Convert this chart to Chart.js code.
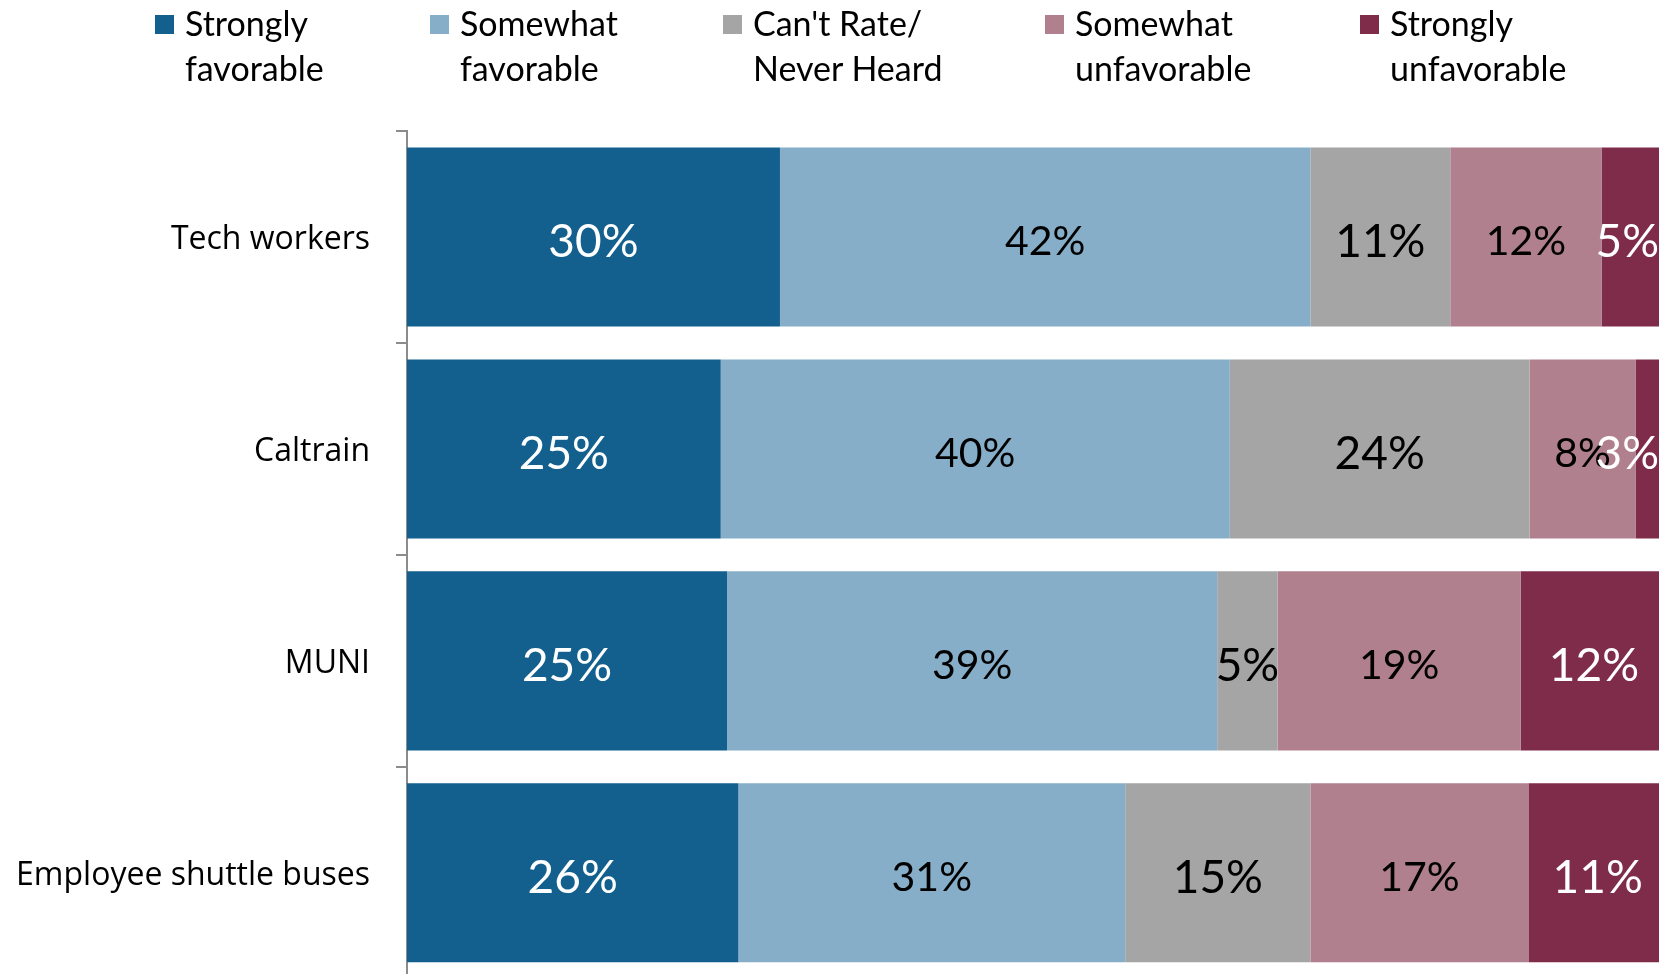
<!DOCTYPE html>
<html>
<head>
<meta charset="utf-8">
<script src="https://cdn.jsdelivr.net/npm/chart.js@4.4.1/dist/chart.umd.min.js"></script>
<style>
  html, body { margin: 0; padding: 0; background: #fff; overflow: hidden; }
  #wrap { position: relative; width: 1659px; height: 974px; overflow: hidden; }
  #myChart { position: absolute; left: 0; top: 0; }
  .leg { position: absolute; top: 0; font-family: Lato, sans-serif; font-size: 34px; line-height: 45px; color: #000; }
  .leg .box { position: absolute; top: 15px; left: 0; width: 19px; height: 19px; }
  .leg .txt { position: absolute; top: 0; left: 30px; white-space: nowrap; }
</style>
</head>
<body>
<div id="wrap">
  <canvas id="myChart" width="1680" height="1024"></canvas>
  <div id="legend"></div>
</div>
<script>
const categories = ['Tech workers', 'Caltrain', 'MUNI', 'Employee shuttle buses'];

const seriesNames = [
  ['Strongly', 'favorable'],
  ['Somewhat', 'favorable'],
  ["Can't Rate/", 'Never Heard'],
  ['Somewhat', 'unfavorable'],
  ['Strongly', 'unfavorable']
];

const stronglyFavorable = [29.6, 24.9, 25.4, 26.3];
const somewhatFavorable = [42.1, 40.4, 38.9, 30.7];
const cantRate = [11.1, 23.8, 4.8, 14.7];
const somewhatUnfavorable = [12.0, 8.4, 19.3, 17.3];
const stronglyUnfavorable = [5.3, 2.6, 11.6, 11.0];

const seriesColors = ['#13608f', '#87aec8', '#a5a5a5', '#b1808f', '#7f2c4b'];
const labelColors = ['#fff', '#000', '#000', '#000', '#fff'];
const labelSizes = [46, 41, 46, 41, 46];

const seriesValues = [stronglyFavorable, somewhatFavorable, cantRate, somewhatUnfavorable, stronglyUnfavorable];

// legend in html (two line labels)
const legendLeft = [155, 430, 723, 1045, 1360];
const legend = document.getElementById('legend');
seriesNames.forEach((name, i) => {
  const item = document.createElement('div');
  item.className = 'leg';
  item.style.left = legendLeft[i] + 'px';
  item.innerHTML = '<div class="box" style="background:' + seriesColors[i] + '"></div>' +
    '<div class="txt">' + name[0] + '<br>' + name[1] + '</div>';
  legend.appendChild(item);
});

const barLabels = {
  id: 'barLabels',
  afterDatasetsDraw(chart) {
    const ctx = chart.ctx;
    const limit = window.innerWidth || 1659;
    ctx.save();
    ctx.textBaseline = 'middle';
    ctx.textAlign = 'center';
    chart.data.datasets.forEach((ds, i) => {
      const meta = chart.getDatasetMeta(i);
      ctx.font = labelSizes[i] + 'px Lato';
      ctx.fillStyle = labelColors[i];
      meta.data.forEach((bar, j) => {
        const text = Math.round(ds.data[j]) + '%';
        const w = ctx.measureText(text).width;
        let x = (bar.x + bar.base) / 2;
        // keep label inside the visible area like the original
        if (x + w / 2 > limit) x = limit - w / 2;
        ctx.fillText(text, x, bar.y + 5);
      });
    });
    ctx.restore();
  }
};

const ctx = document.getElementById('myChart');

new Chart(ctx, {
  type: 'bar',
  data: {
    labels: categories,
    datasets: seriesValues.map((vals, i) => ({
      label: seriesNames[i].join(' '),
      data: vals,
      backgroundColor: seriesColors[i],
      borderWidth: 0,
      categoryPercentage: 0.845,
      barPercentage: 1
    }))
  },
  options: {
    indexAxis: 'y',
    responsive: false,
    animation: false,
    devicePixelRatio: 1,
    layout: {
      padding: { top: 131, bottom: 3, right: 13, left: 0 }
    },
    scales: {
      x: {
        stacked: true,
        display: false,
        min: 0,
        max: 100
      },
      y: {
        stacked: true,
        afterFit: (scale) => { scale.width = 407; },
        border: { display: true, color: '#8c8c8c', width: 2 },
        grid: {
          display: true,
          drawOnChartArea: false,
          drawTicks: true,
          tickLength: 11,
          color: '#8c8c8c',
          lineWidth: 2
        },
        ticks: {
          color: '#000',
          padding: 26,
          labelOffset: 3,
          font: { family: 'Open Sans', size: 32 }
        }
      }
    },
    plugins: {
      legend: { display: false },
      tooltip: { enabled: false }
    }
  },
  plugins: [barLabels]
});
</script>
</body>
</html>
